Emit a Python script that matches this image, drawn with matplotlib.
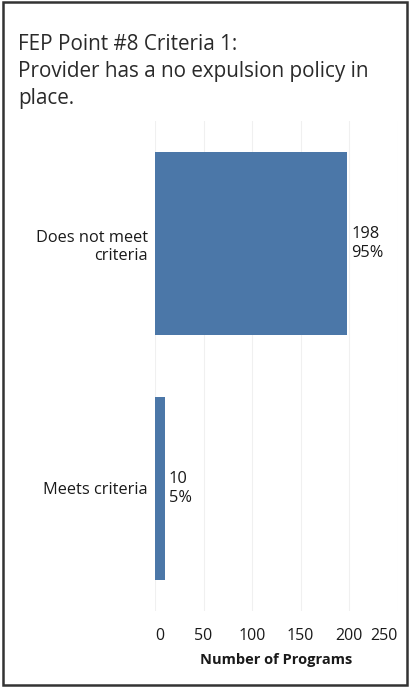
import matplotlib
matplotlib.use("Agg")
import matplotlib.pyplot as plt
from matplotlib.patches import Rectangle

plt.rcParams['font.family'] = ['Open Sans', 'DejaVu Sans']

categories = ["Does not meet\ncriteria", "Meets criteria"]
counts = [198, 10]
percents = ["95%", "5%"]
xticks = [0, 50, 100, 150, 200, 250]
title = "FEP Point #8 Criteria 1:\nProvider has a no expulsion policy in\nplace."
xlabel = "Number of Programs"

W, H = 410, 687
fig = plt.figure(figsize=(W / 100, H / 100), dpi=100)

ax = fig.add_axes([155 / W, (H - 611) / H, (398 - 155) / W, 490 / H])
pos = list(range(len(categories)))
ax.barh(pos, counts, height=0.75, color='#4b77a8', zorder=2)
ax.set_ylim(len(categories) - 0.5, -0.5)
ax.set_xlim(0, 250.5)
ax.set_yticks(pos)
ax.set_yticklabels(categories, fontsize=11.8, color='#1a1a1a', ha='right',
                   multialignment='right', linespacing=1.25)
ax.set_xticks(xticks)
ax.set_xticklabels([str(t) for t in xticks], fontsize=11.5, color='#1a1a1a')
labels = ax.get_xticklabels()
labels[0].set_horizontalalignment('left')
labels[-1].set_horizontalalignment('right')
ax.tick_params(axis='both', length=0)
ax.tick_params(axis='x', pad=12)
ax.tick_params(axis='y', pad=5)
ax.set_xlabel(xlabel, fontsize=10.5, fontweight='bold', color='#1a1a1a', labelpad=7)
for s in ax.spines.values():
    s.set_visible(False)
ax.grid(axis='x', color='#f0f0f0', linewidth=0.8, zorder=0)
ax.set_axisbelow(True)

for p, c, pc in zip(pos, counts, percents):
    ax.annotate(f"{c}\n{pc}", xy=(c, p), xytext=(3, 0), textcoords='offset points',
                va='center', ha='left', fontsize=11.8, color='#1a1a1a', linespacing=1.25)

fig.text(18 / W, 1 - 34 / H, title, fontsize=14.9, color='#2a2a2a', va='top', ha='left',
         linespacing=1.38)

fig.patches.append(Rectangle((3 / W, 2 / H), (W - 6) / W, (H - 4) / H, transform=fig.transFigure,
                             fill=False, edgecolor='#333333', linewidth=1.8))

fig.savefig("out.png", dpi=100)
